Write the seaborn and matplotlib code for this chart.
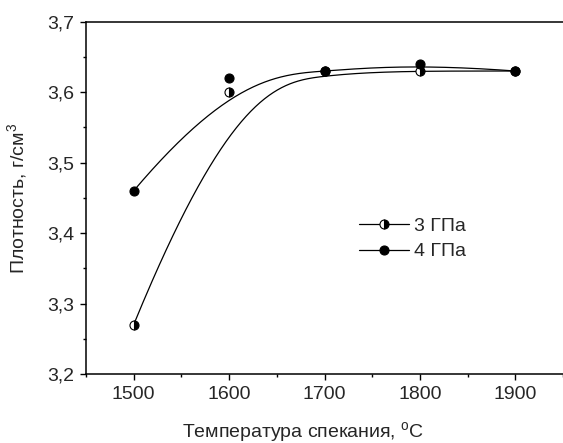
import numpy as np
import pandas as pd
import matplotlib
matplotlib.use('Agg')
import matplotlib.pyplot as plt
from matplotlib.lines import Line2D
from matplotlib.ticker import MultipleLocator, FuncFormatter
import seaborn as sns

# data
temps = [1500, 1600, 1700, 1800, 1900]
dens_3gpa = [3.27, 3.60, 3.63, 3.63, 3.63]
dens_4gpa = [3.46, 3.62, 3.63, 3.64, 3.63]
labels = ['3 ГПа', '4 ГПа']


def bspline(px, py, k=3, n=300):
  # clamped B-spline with the data points as control points
  px, py = np.asarray(px, float), np.asarray(py, float)
  m = len(px)
  knots = np.concatenate([np.zeros(k), np.linspace(0, 1, m - k + 1), np.ones(k)])
  t = np.linspace(0, 1, n)
  t[-1] -= 1e-9

  def N(i, p):
    if p == 0:
      return ((knots[i] <= t) & (t < knots[i + 1])).astype(float)
    out = np.zeros_like(t)
    d1 = knots[i + p] - knots[i]
    d2 = knots[i + p + 1] - knots[i + 1]
    if d1 > 0: out += (t - knots[i]) / d1 * N(i, p - 1)
    if d2 > 0: out += (knots[i + p + 1] - t) / d2 * N(i + 1, p - 1)
    return out

  B = np.stack([N(i, k) for i in range(m)])
  return B.T @ px, B.T @ py


sns.set_theme(style='ticks')
plt.rcParams['font.family'] = ['Liberation Sans', 'DejaVu Sans']
plt.rcParams['mathtext.fontset'] = 'custom'
plt.rcParams['mathtext.rm'] = 'Liberation Sans'
plt.rcParams['mathtext.it'] = 'Liberation Sans'

fig = plt.figure(figsize=(5.63, 4.43), dpi=100)
ax = fig.add_axes([0.1527, 0.1558, 0.8526, 0.7952])

for y in (dens_3gpa, dens_4gpa):
  cx, cy = bspline(temps, y)
  sns.lineplot(x=cx, y=cy, ax=ax, color='black', lw=0.9, sort=False, estimator=None)

ax.plot(temps, dens_3gpa, 'o', color='black', ms=6.5, fillstyle='right',
        markerfacecoloralt='white', mew=0.8)
ax.plot(temps, dens_4gpa, 'o', color='black', ms=6.5, mew=0.8)

ax.set_xlim(1450, 1953)
ax.set_ylim(3.2, 3.7)
ax.xaxis.set_major_locator(MultipleLocator(100))
ax.xaxis.set_minor_locator(MultipleLocator(50))
ax.yaxis.set_major_locator(MultipleLocator(0.1))
ax.yaxis.set_minor_locator(MultipleLocator(0.05))
ax.yaxis.set_major_formatter(FuncFormatter(lambda v, p: f'{v:.1f}'.replace('.', ',')))
ax.tick_params(which='major', direction='out', length=4.5, width=1, labelsize=14, pad=4, color='black')
ax.tick_params(which='minor', direction='out', length=2.5, width=1, color='black')
for s in ax.spines.values():
  s.set_linewidth(1.1)
  s.set_color('black')
ax.spines['right'].set_visible(False)

ax.set_xlabel('Температура спекания, $^{\\mathrm{o}}$C', fontsize=14)
ax.set_ylabel('Плотность, г/см$^{3}$', fontsize=14)
ax.xaxis.set_label_coords(0.452, -0.13)
ax.yaxis.set_label_coords(-0.118, 0.5)

handles = [
  Line2D([], [], color='black', lw=0.9, marker='o', ms=6.5, fillstyle='right',
         markerfacecoloralt='white', mew=0.8),
  Line2D([], [], color='black', lw=0.9, marker='o', ms=6.5, mew=0.8),
]
ax.legend(handles, labels, frameon=False, fontsize=14, loc='upper left',
          bbox_to_anchor=(0.548, 0.472), handlelength=2.6, handletextpad=0.25,
          labelspacing=0.4, borderpad=0)

fig.savefig('out.png', dpi=100)
